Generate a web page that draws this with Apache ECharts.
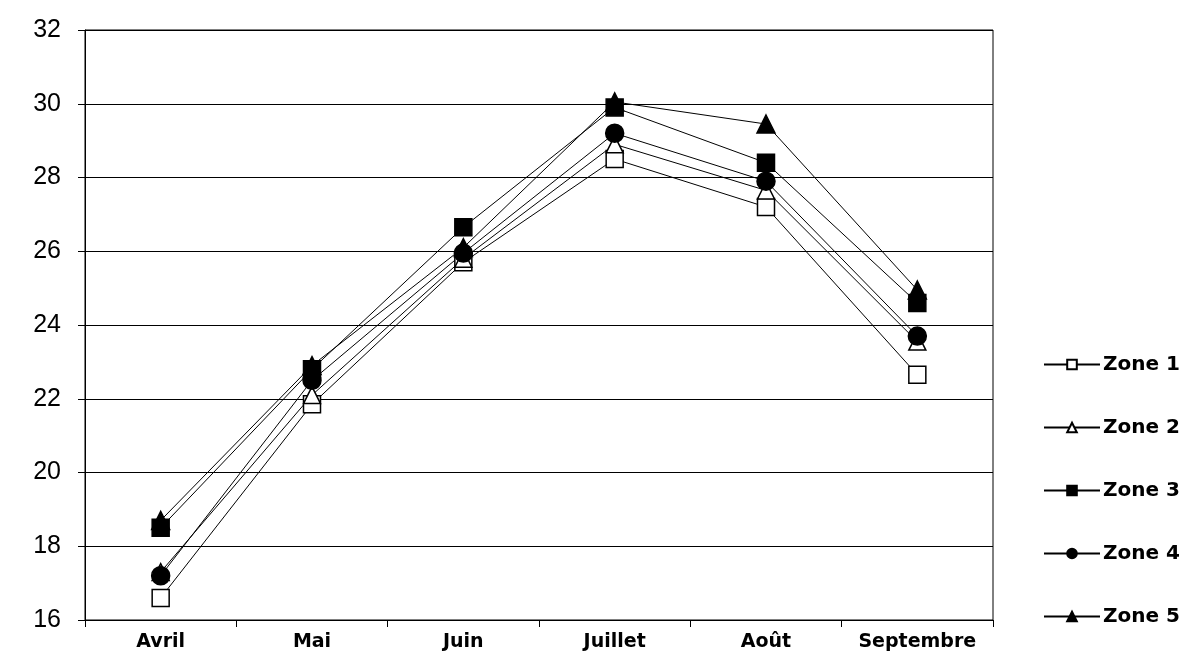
<!DOCTYPE html>
<html>
<head>
<meta charset="utf-8">
<script src="https://cdn.jsdelivr.net/npm/echarts@6/dist/echarts.min.js"></script>
<style>
html,body{margin:0;padding:0;background:#fff;}
#chart{width:1193px;height:662px;}
</style>
</head>
<body>
<div id="chart"></div>
<script>
const categories = ['Avril', 'Mai', 'Juin', 'Juillet', 'Août', 'Septembre'];
const zone1 = [16.6, 21.85, 25.7, 28.5, 27.2, 22.65];
const zone2 = [17.3, 22.1, 25.8, 28.9, 27.65, 23.55];
const zone3 = [18.5, 22.8, 26.65, 29.9, 28.4, 24.6];
const zone4 = [17.2, 22.5, 25.95, 29.2, 27.9, 23.7];
const zone5 = [18.7, 22.9, 26.1, 30.05, 29.45, 24.95];
const seriesNames = ['Zone 1', 'Zone 2', 'Zone 3', 'Zone 4', 'Zone 5'];
const yTicks = [16, 18, 20, 22, 24, 26, 28, 30, 32];

const chart = echarts.init(document.getElementById('chart'), null, {renderer: 'canvas'});

function mk(name, data, symbol, filled, size) {
  return {
    name: name,
    type: 'line',
    data: data,
    symbol: symbol,
    symbolSize: size,
    showAllSymbol: true,
    lineStyle: {color: '#000', width: 1},
    itemStyle: {color: filled ? '#000' : '#fff', borderColor: '#000', borderWidth: 1.5, opacity: 1},
    emphasis: {disabled: true},
    animation: false
  };
}

const option = {
  backgroundColor: '#fff',
  animation: false,
  grid: {left: 85, right: 200, top: 30, bottom: 42, show: true, borderColor: '#000', borderWidth: 1, backgroundColor: 'transparent'},
  legend: {
    orient: 'vertical',
    left: 1038,
    top: 349,
    itemWidth: 56,
    itemHeight: 12,
    itemGap: 42,
    textStyle: {fontFamily: 'DejaVu Sans, sans-serif', fontSize: 20, fontWeight: 'bold', color: '#000', lineHeight: 21, padding: [0, 0, 0, -2]},
    data: seriesNames
  },
  xAxis: {
    type: 'category',
    data: categories,
    boundaryGap: true,
    axisLine: {lineStyle: {color: '#000', width: 1}},
    axisTick: {show: true, length: 7, interval: 0, lineStyle: {color: '#000'}},
    axisLabel: {color: '#000', fontFamily: 'DejaVu Sans, sans-serif', fontWeight: 'bold', fontSize: 19, margin: 13, interval: 0, hideOverlap: false},
    splitLine: {show: false}
  },
  yAxis: {
    type: 'value',
    min: 16,
    max: 32,
    interval: 2,
    axisLine: {show: true, lineStyle: {color: '#000', width: 1}},
    axisTick: {show: true, length: 7, lineStyle: {color: '#000'}},
    axisLabel: {color: '#000', fontFamily: 'Liberation Sans, Arial, sans-serif', fontSize: 25, margin: 24,
      formatter: v => yTicks.includes(v) ? String(v) : ''},
    splitLine: {show: true, lineStyle: {color: '#000', width: 1}}
  },
  series: [
    mk('Zone 1', zone1, 'rect', false, 17),
    mk('Zone 2', zone2, 'triangle', false, 17),
    mk('Zone 3', zone3, 'rect', true, 17),
    mk('Zone 4', zone4, 'circle', true, 18),
    mk('Zone 5', zone5, 'triangle', true, 18)
  ]
};
chart.setOption(option);
</script>
</body>
</html>
